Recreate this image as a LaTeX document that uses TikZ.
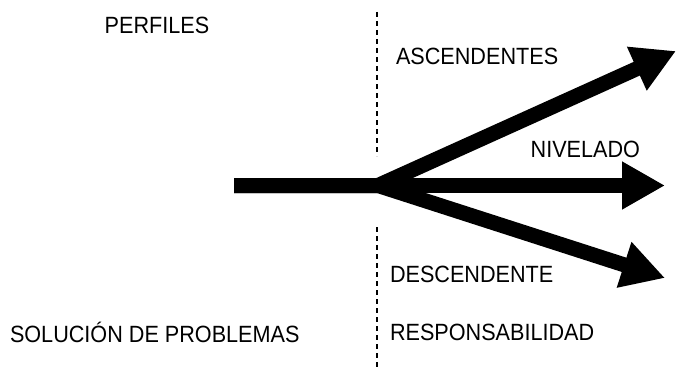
\documentclass[tikz,border=0pt]{standalone}
\usepackage{fontspec}
\setmainfont[FakeStretch=0.92]{Liberation Sans}
\usetikzlibrary{arrows.meta}

\begin{document}
\begin{tikzpicture}[x=1pt,y=-1pt,line width=15pt,line join=round,
    >={Triangle[length=43pt,width=45pt]},
    every node/.style={inner sep=0pt,outer sep=0pt,font=\fontsize{23.5}{28}\selectfont}]
  \useasboundingbox (0,0) rectangle (677,369);
  \coordinate (S) at (234,185.5);
  \coordinate (O) at (378,185.5);
  \coordinate (A) at (676,51);
  \coordinate (N) at (665,185.5);
  \coordinate (D) at (665,278);
  \coordinate (T1) at (377,12);
  \coordinate (T2) at (377,156);
  \coordinate (B1) at (377,227);
  \coordinate (B2) at (377,369);
  % dashed divider
  \draw[line width=1.6pt,dash pattern=on 5pt off 4pt] (T1) -- (T2);
  \draw[line width=1.6pt,dash pattern=on 5pt off 4pt] (B1) -- (B2);
  % arrows
  \draw[->] (S) -- (O) -- (A);
  \draw[->] (S) -- (O) -- (N);
  \draw[->] (S) -- (O) -- (D);
  % labels
  \node[anchor=base] (perf) at (157,34) {PERFILES};
  \node[anchor=base west] (asc) at (396,65) {ASCENDENTES};
  \node[anchor=base east] (niv) at (640,157) {NIVELADO};
  \node[anchor=base west] (desc) at (390,282) {DESCENDENTE};
  \node[anchor=base west] (resp) at (390,340) {RESPONSABILIDAD};
  \node[anchor=base west] (sol) at (10,342) {SOLUCIÓN DE PROBLEMAS};
\end{tikzpicture}
\end{document}
